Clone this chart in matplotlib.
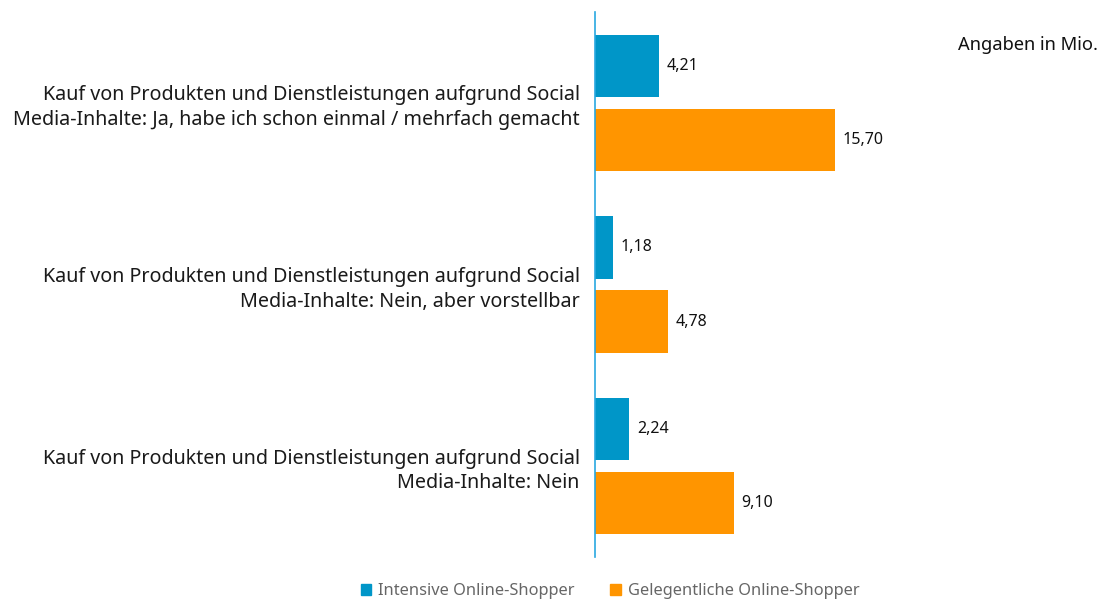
import matplotlib
matplotlib.use("Agg")
import matplotlib.pyplot as plt
from matplotlib.patches import Patch

categories = [
    "Kauf von Produkten und Dienstleistungen aufgrund Social\nMedia-Inhalte: Ja, habe ich schon einmal / mehrfach gemacht",
    "Kauf von Produkten und Dienstleistungen aufgrund Social\nMedia-Inhalte: Nein, aber vorstellbar",
    "Kauf von Produkten und Dienstleistungen aufgrund Social\nMedia-Inhalte: Nein",
]
intensive = [4.21, 1.18, 2.24]
gelegentlich = [15.70, 4.78, 9.10]
series_names = ["Intensive Online-Shopper", "Gelegentliche Online-Shopper"]
colors = ["#0096C8", "#FF9500"]

plt.rcParams['font.family'] = ['Noto Sans', 'DejaVu Sans']

W, H = 1101, 602
fig = plt.figure(figsize=(W/100, H/100), dpi=100)
ax_left, ax_right = 595, 1090
ax_top, ax_bot = 12, 557
ax = fig.add_axes([ax_left/W, 1-ax_bot/H, (ax_right-ax_left)/W, (ax_bot-ax_top)/H])

px_per_unit = 15.27
ax.set_xlim(0, (ax_right-ax_left)/px_per_unit)
ax.set_ylim(2.5, -0.5)

h = 0.343
off = 0.204
ys = list(range(len(categories)))
for i, y in enumerate(ys):
    for vals, col, d in [(intensive, colors[0], -off), (gelegentlich, colors[1], off)]:
        v = vals[i]
        ax.barh(y + d, v, height=h, color=col)
        ax.text(v + 0.5, y + d, f"{v:.2f}".replace(".", ","), va="center", ha="left",
                fontsize=11.5, color="#111111")

ax.set_yticks(ys)
ax.set_yticklabels(categories, fontsize=14.2, color="#1a1a1a", linespacing=1.3)
ax.tick_params(axis='y', length=0, pad=11)
ax.set_xticks([])
for s in ["top", "right", "bottom"]:
    ax.spines[s].set_visible(False)
ax.spines["left"].set_color("#29A8E0")
ax.spines["left"].set_linewidth(1.2)

fig.text(1098/W, 1-45/H, "Angaben in Mio.", ha="right", va="center", fontsize=13.2, color="#111111")

handles = [Patch(facecolor=c, edgecolor=c) for c in colors]
fig.legend(handles, series_names, loc="center", bbox_to_anchor=(610/W, 1-591/H),
           ncol=2, frameon=False, fontsize=11.8, handlelength=0.65, handleheight=0.65,
           handletextpad=0.4, columnspacing=2.2, labelcolor="#666666")

fig.savefig("out.png", dpi=100)
